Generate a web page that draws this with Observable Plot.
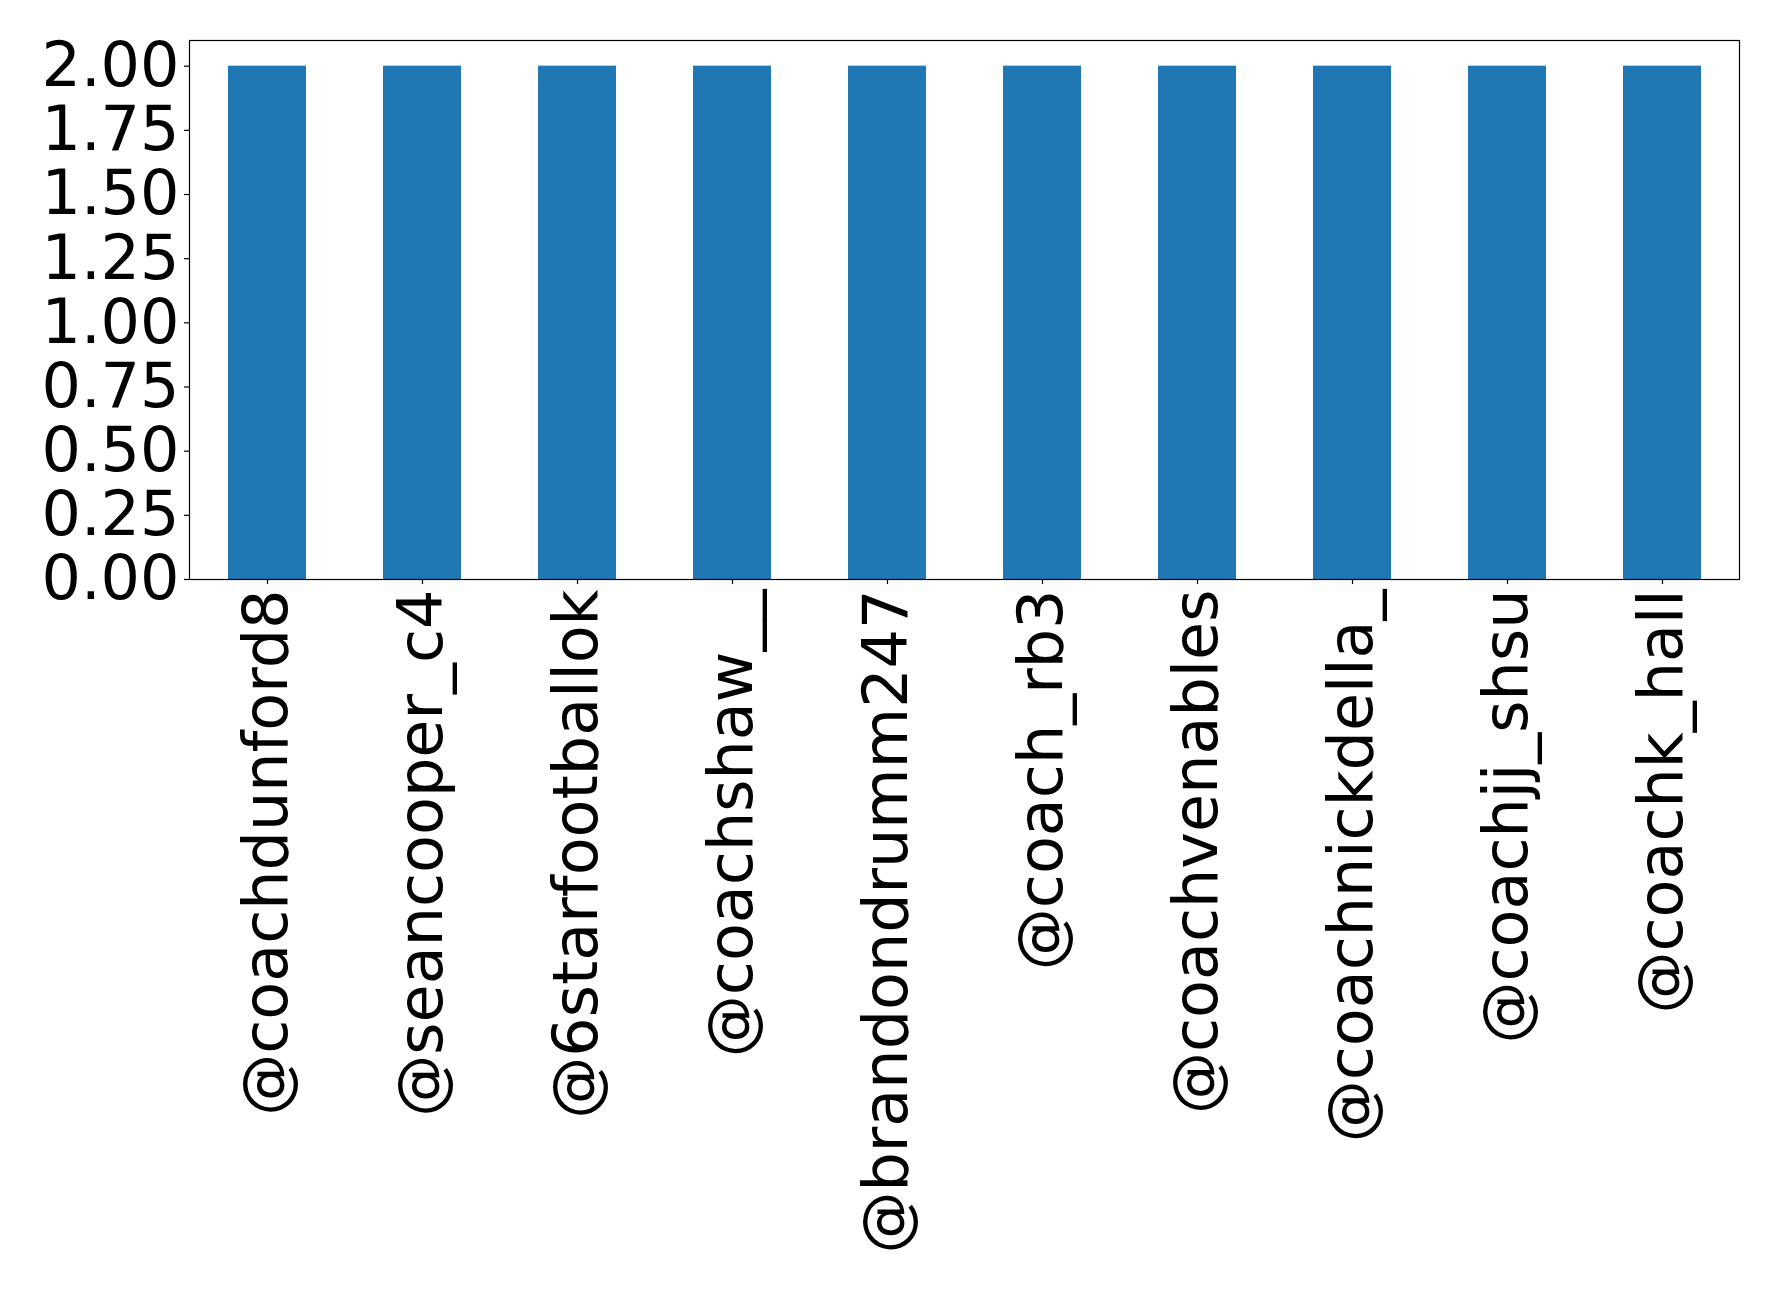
<!DOCTYPE html>
<html>
<head>
<meta charset="utf-8">
<script src="https://cdn.jsdelivr.net/npm/d3@7"></script>
<script src="https://cdn.jsdelivr.net/npm/@observablehq/plot@0.6"></script>
<style>
  html, body { margin: 0; padding: 0; background: #fff; }
  #chart { width: 1778px; height: 1297px; }
</style>
</head>
<body>
<div id="chart"></div>
<script>
// Accounts and their counts
const accounts = [
  "@coachdunford8", "@seancooper_c4", "@6starfootballok", "@coachshaw__",
  "@brandondrumm247", "@coach_rb3", "@coachvenables", "@coachnickdella_",
  "@coachjj_shsu", "@coachk_hall"
];
const counts = [2, 2, 2, 2, 2, 2, 2, 2, 2, 2];
const yTicks = [0, 0.25, 0.5, 0.75, 1.0, 1.25, 1.5, 1.75, 2.0];

const data = accounts.map((name, i) => ({name, count: counts[i]}));

const chart = Plot.plot({
  width: 1778,
  height: 1297,
  marginLeft: 189,
  marginRight: 39,
  marginTop: 40,
  marginBottom: 718,
  style: {fontFamily: "'DejaVu Sans', sans-serif", color: "#000", background: "#fff"},
  x: {domain: accounts, paddingInner: 0.5, paddingOuter: 0.25, label: null},
  y: {domain: [0, 2.1], label: null},
  marks: [
    Plot.barY(data, {x: "name", y: "count", fill: "#1f77b4"}),
    Plot.frame({stroke: "#000", strokeWidth: 1.2}),
    Plot.axisY({
      ticks: yTicks,
      tickFormat: d3.format(".2f"),
      fontSize: 62,
      tickSize: 5,
      tickPadding: 5,
      strokeWidth: 1.2,
      label: null
    }),
    Plot.axisX({
      tickRotate: -90,
      fontSize: 62,
      tickSize: 5,
      tickPadding: 5,
      strokeWidth: 1.2,
      label: null
    })
  ]
});

document.getElementById("chart").appendChild(chart);
</script>
</body>
</html>
